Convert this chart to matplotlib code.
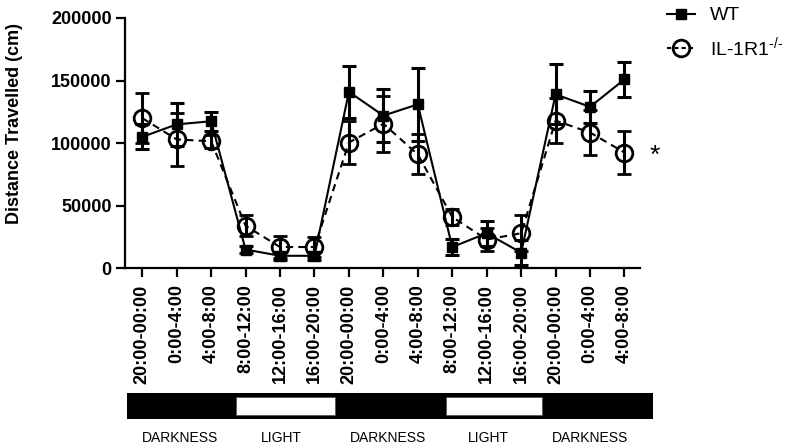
import matplotlib
matplotlib.use("Agg")
import matplotlib.pyplot as plt
from matplotlib.lines import Line2D
from matplotlib.patches import Rectangle
import matplotlib.transforms as mtransforms

plt.rcParams['font.family'] = ['Liberation Sans', 'DejaVu Sans']
plt.rcParams['mathtext.fontset'] = 'custom'
plt.rcParams['mathtext.rm'] = 'Liberation Sans'
plt.rcParams['mathtext.it'] = 'Liberation Sans'

# ---- data ----
time_labels = ["20:00-00:00", "0:00-4:00", "4:00-8:00", "8:00-12:00", "12:00-16:00",
               "16:00-20:00", "20:00-00:00", "0:00-4:00", "4:00-8:00", "8:00-12:00",
               "12:00-16:00", "16:00-20:00", "20:00-00:00", "0:00-4:00", "4:00-8:00"]
wt_mean = [105000, 115000, 117500, 15000, 10000, 10000, 141000, 122000, 131000,
           17000, 28000, 12500, 139000, 129000, 151000]
wt_err = [10000, 17000, 7500, 3000, 3000, 3000, 21000, 21000, 29000,
          6500, 10000, 10000, 24000, 13000, 14000]
ko_mean = [120000, 103000, 101500, 34000, 17000, 17000, 100500, 115500, 91000,
           41000, 23000, 28000, 118000, 108500, 92500]
ko_err = [20000, 21000, 5000, 8500, 8500, 8000, 17000, 22500, 16000,
          6500, 9500, 14500, 18000, 18000, 17000]
y_ticks = [0, 50000, 100000, 150000, 200000]

phase_names = ["DARKNESS", "LIGHT", "DARKNESS", "LIGHT", "DARKNESS"]
phase_edges = [-0.455, 2.7, 5.57, 8.81, 11.59, 14.8]
phase_label_x = [1.08, 4.03, 7.11, 10.02, 12.97]

# ---- figure ----
W, H = 789, 448
fig = plt.figure(figsize=(W / 100, H / 100), dpi=100)
ax = fig.add_axes([125 / W, 1 - 268.3 / H, (640 - 125) / W, (268.3 - 18) / H])

x = list(range(len(time_labels)))

ax.errorbar(x, wt_mean, yerr=wt_err, color='black', lw=1.5, marker='s', ms=6.5,
            elinewidth=2.2, capsize=5, capthick=2.2, zorder=3)
ax.errorbar(x, ko_mean, yerr=ko_err, color='black', lw=1.5, ls=(0, (3.5, 2.5)),
            marker='o', ms=12, mfc='none', mew=2, elinewidth=2.2, capsize=5,
            capthick=2.2, zorder=4)

ax.set_xlim(-0.5, 14.45)
ax.set_ylim(0, 200000)
ax.set_yticks(y_ticks)
ax.set_yticklabels([str(v) for v in y_ticks], fontsize=13, fontweight='bold')
ax.set_xticks(x)
ax.set_xticklabels(time_labels, rotation=90, fontsize=13, fontweight='bold')
for s in ['top', 'right']:
    ax.spines[s].set_visible(False)
for s in ['left', 'bottom']:
    ax.spines[s].set_linewidth(1.6)
ax.tick_params(axis='both', width=1.6, length=6.5, pad=3)
ax.tick_params(axis='x', pad=5)

fig.text(15 / W, 1 - 124 / H, "Distance Travelled (cm)", rotation=90,
         ha='center', va='center', fontsize=13, fontweight='bold')

ax.text(14.87, 90000, "*", fontsize=19, ha='center', va='center', clip_on=False)

handles = [
    Line2D([], [], color='black', lw=1.5, marker='s', ms=6.5),
    Line2D([], [], color='black', lw=1.5, ls=(0, (2, 1.5)), marker='o', ms=12,
           mfc='none', mew=2),
]
fig.legend(handles, ["WT", "IL-1R1$^{\\text{-/-}}$"], loc='upper left',
           bbox_to_anchor=(667 / W, 0.985), frameon=False, fontsize=14,
           handlelength=1.45, handletextpad=0.75, labelspacing=0.55,
           borderpad=0, borderaxespad=0)

# ---- light/dark bar ----
bax = fig.add_axes([127 / W, 1 - 419.3 / H, (652.7 - 127) / W, 26 / H])
bax.set_xlim(phase_edges[0], phase_edges[-1])
bax.set_ylim(0, 1)
bax.axis('off')
bax.add_patch(Rectangle((phase_edges[0], 0), phase_edges[-1] - phase_edges[0], 1,
                        facecolor='black', edgecolor='none'))
for i, name in enumerate(phase_names):
    if name == "LIGHT":
        bax.add_patch(Rectangle((phase_edges[i], 0.154),
                                phase_edges[i + 1] - phase_edges[i], 0.692,
                                facecolor='white', edgecolor='#555555', lw=0.6))
trans = mtransforms.blended_transform_factory(bax.transData, bax.transAxes)
for name, lx in zip(phase_names, phase_label_x):
    bax.text(lx, -0.71, name, transform=trans, ha='center', va='center',
             fontsize=10, clip_on=False)

fig.savefig("out.png", dpi=100)
